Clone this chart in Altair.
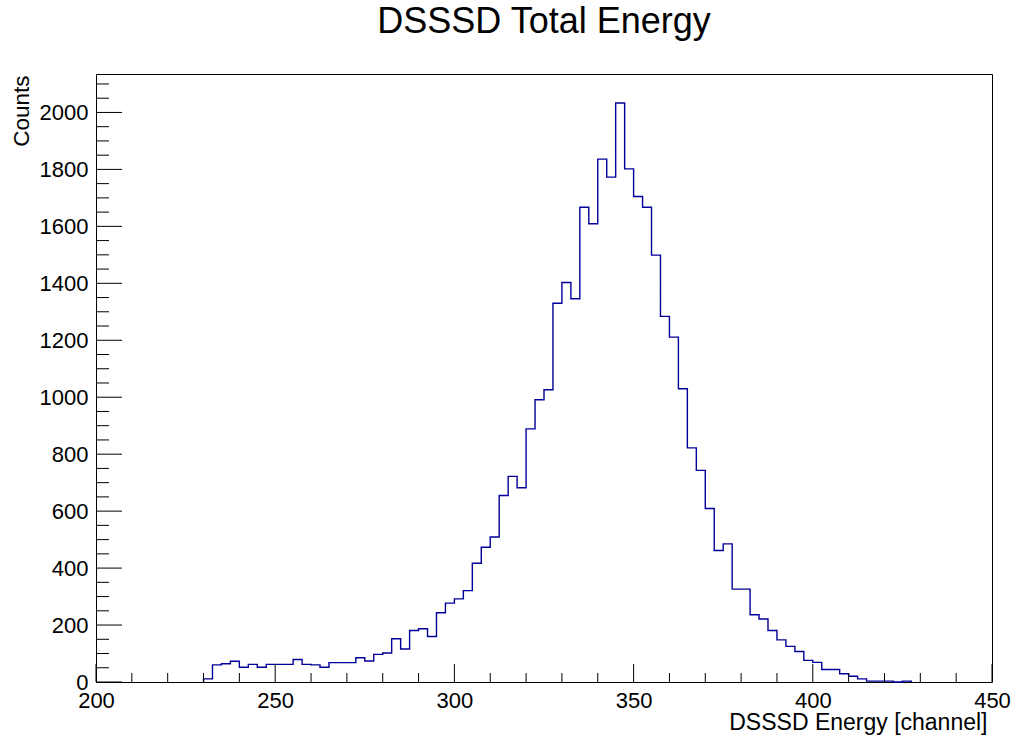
import altair as alt
import pandas as pd

# ---- data (100 bins, 200..450, width 2.5) ----
bin_start = 230.0
bin_width = 2.5
counts = [
    11, 60, 64, 73, 52, 62, 52, 62, 62, 62,        # 230 .. 252.5
    79, 62, 60, 52, 68, 68, 68, 85, 74, 97,        # 255 .. 277.5
    102, 152, 116, 181, 187, 160, 243, 277, 292, 321,  # 280 .. 302.5
    417, 473, 509, 655, 722, 682, 889, 991, 1026, 1330,  # 305 .. 327.5
    1403, 1346, 1667, 1609, 1836, 1773, 2033, 1802, 1705, 1667,  # 330 .. 352.5
    1499, 1284, 1211, 1030, 822, 743, 609, 462, 485, 326,  # 355 .. 377.5
    326, 236, 221, 181, 148, 125, 107, 76, 69, 44,  # 380 .. 402.5
    44, 29, 20, 11, 3, 3, 3, 0, 3,                  # 405 .. 425
]

x_major = [200, 250, 300, 350, 400, 450]
x_minor = [v for v in range(210, 450, 10) if v % 50 != 0]
y_major = list(range(0, 2001, 200))
y_minor = [v for v in range(50, 2134, 50) if v % 200 != 0]

x_domain = [200, 450]
y_domain = [0, 2135]

# step outline points (ROOT-style histogram contour)
xs = [bin_start] + [bin_start + i * bin_width for i in range(len(counts))] + [bin_start + len(counts) * bin_width] * 2
ys = [0] + counts + [counts[-1], 0]
hist = pd.DataFrame({"v": xs, "w": ys, "o": list(range(len(xs)))})

W, H = 896, 608
FONT = "Liberation Sans"

xscale = alt.Scale(domain=x_domain, nice=False, zero=False)
yscale = alt.Scale(domain=y_domain, nice=False, zero=True)

xaxis = alt.Axis(
    values=x_major, format="d", tickSize=0, domain=False, grid=False,
    labelFontSize=22, labelFont=FONT, labelColor="black", labelPadding=8,
    labelFlush=False,
    title="DSSSD Energy [channel]", titleFont=FONT, titleFontSize=23,
    titleFontWeight="normal", titleColor="black",
    titleAlign="right", titleBaseline="alphabetic", titleX=891, titleY=47,
)
yaxis = alt.Axis(
    values=y_major, format="d", tickSize=0, domain=False, grid=False,
    labelFontSize=22, labelFont=FONT, labelColor="black", labelPadding=8,
    labelFlush=False,
    title="Counts", titleFont=FONT, titleFontSize=22.5,
    titleFontWeight="normal", titleColor="black",
    titleAlign="right", titleBaseline="alphabetic", titleX=-68, titleY=1,
)

line = alt.Chart(hist).mark_line(
    interpolate="step-after", color="#000099", strokeWidth=1.4
).encode(
    x=alt.X("v:Q", scale=xscale, axis=xaxis, title="DSSSD Energy [channel]"),
    y=alt.Y("w:Q", scale=yscale, axis=yaxis, title="Counts"),
    order="o:Q",
)

def xticks(vals, length):
    return alt.Chart(pd.DataFrame({"v": vals})).mark_rule(color="black", strokeWidth=1).encode(
        x=alt.X("v:Q", scale=xscale, axis=xaxis, title="DSSSD Energy [channel]"),
        y=alt.value(H), y2=alt.value(H - length),
    )

def yticks(vals, length):
    return alt.Chart(pd.DataFrame({"w": vals})).mark_rule(color="black", strokeWidth=1).encode(
        y=alt.Y("w:Q", scale=yscale, axis=yaxis, title="Counts"),
        x=alt.value(0), x2=alt.value(length),
    )

chart = alt.layer(
    line,
    xticks(x_major, 18), xticks(x_minor, 9),
    yticks(y_major, 26), yticks(y_minor, 13),
).properties(
    width=W, height=H,
    title=alt.Title("DSSSD Total Energy", fontSize=36, font=FONT, fontWeight="normal",
                    color="black", anchor="middle", frame="group",
                    baseline="alphabetic", offset=5),
    autosize=alt.AutoSizeParams(type="none"),
    padding={"left": 96, "top": 74, "right": 21, "bottom": 63},
    background="white",
).configure_view(stroke="black", strokeWidth=1)

chart.save("out.html", embed_options={"renderer": "svg", "actions": False})
